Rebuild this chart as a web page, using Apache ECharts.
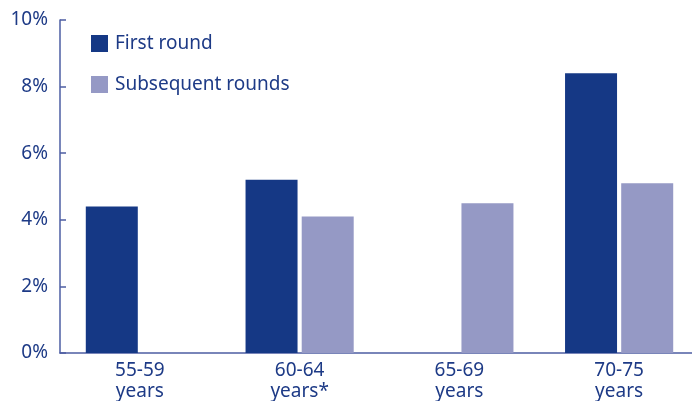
<!DOCTYPE html>
<html>
<head>
<meta charset="utf-8">
<script src="https://cdn.jsdelivr.net/npm/echarts@6/dist/echarts.min.js"></script>
<style>
  html, body { margin: 0; padding: 0; background: #fff; }
  #chart { width: 692px; height: 401px; }
</style>
</head>
<body>
<div id="chart"></div>
<script>
// age groups on the x axis
const categories = ['55-59\nyears', '60-64\nyears*', '65-69\nyears', '70-75\nyears']
// percentages, null where there is no bar
const firstRound = [4.4, 5.2, null, 8.4]
const subsequentRounds = [null, 4.1, 4.5, 5.1]

const textColor = '#1d3a86'
const axisColor = '#4d5ea3'

let myChart = echarts.init(document.getElementById('chart'))
myChart.setOption({
  animation: false,
  textStyle: { fontFamily: 'Noto Sans' },
  grid: { left: 60, right: -7, top: 20, bottom: 48, outerBoundsMode: 'none' },
  legend: {
    orient: 'vertical',
    left: 91,
    top: 34,
    padding: 0,
    itemWidth: 17,
    itemHeight: 17,
    itemGap: 22,
    icon: 'rect',
    textStyle: { color: textColor, fontSize: 19, padding: [0, 0, 0, 2] },
    data: ['First round', 'Subsequent rounds']
  },
  xAxis: {
    type: 'category',
    data: categories,
    axisLine: { lineStyle: { color: axisColor, width: 1.5 } },
    axisTick: { inside: true, length: 6, lineStyle: { color: axisColor, width: 1.5 } },
    axisLabel: { color: textColor, fontSize: 19, lineHeight: 21, margin: 7 }
  },
  yAxis: {
    type: 'value',
    min: 0,
    max: 10,
    interval: 2,
    splitLine: { show: false },
    axisLine: { show: true, lineStyle: { color: axisColor, width: 1.5 } },
    axisTick: { show: true, inside: true, length: 6, lineStyle: { color: axisColor, width: 1.5 } },
    axisLabel: { color: textColor, fontSize: 19, margin: 12, formatter: '{value}%' }
  },
  series: [
    {
      name: 'First round',
      type: 'bar',
      data: firstRound,
      barWidth: 52,
      barGap: '8%',
      itemStyle: { color: '#153885' }
    },
    {
      name: 'Subsequent rounds',
      type: 'bar',
      data: subsequentRounds,
      barWidth: 52,
      itemStyle: { color: '#9599c5' }
    }
  ]
})
</script>
</body>
</html>
